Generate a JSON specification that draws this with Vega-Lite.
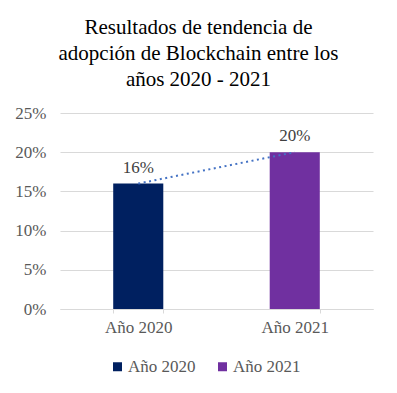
{
  "$schema": "https://vega.github.io/schema/vega-lite/v6.json",
  "width": 313,
  "height": 196,
  "autosize": {"type": "none"},
  "padding": {"left": 60, "top": 113, "right": 24, "bottom": 84},
  "background": "white",
  "config": {
    "font": "Liberation Serif",
    "view": {"stroke": null}
  },
  "title": {
    "text": ["Resultados de tendencia de", "adopción de Blockchain entre los", "años 2020 - 2021"],
    "font": "Liberation Serif",
    "fontSize": 21,
    "fontWeight": "normal",
    "color": "#000000",
    "lineHeight": 26,
    "anchor": "middle",
    "frame": "group",
    "dx": -18,
    "offset": 14
  },
  "data": {
    "values": [
      {"anio": "Año 2020", "valor": 0.16},
      {"anio": "Año 2021", "valor": 0.20}
    ]
  },
  "encoding": {
    "x": {
      "field": "anio",
      "type": "nominal",
      "title": null,
      "scale": {"paddingInner": 0.68, "paddingOuter": 0.34},
      "axis": {
        "labelAngle": 0,
        "labelFont": "Liberation Serif",
        "labelFontSize": 17,
        "labelColor": "#595959",
        "labelPadding": 6,
        "domainColor": "#D9D9D9",
        "tickColor": "#D9D9D9",
        "tickSize": 4,
        "tickBand": "extent",
        "grid": false
      }
    },
    "y": {
      "field": "valor",
      "type": "quantitative",
      "title": null,
      "scale": {"domain": [0, 0.25], "nice": false},
      "axis": {
        "values": [0, 0.05, 0.1, 0.15, 0.2, 0.25],
        "format": ".0%",
        "labelFont": "Liberation Serif",
        "labelFontSize": 17,
        "labelColor": "#595959",
        "labelPadding": 14,
        "domain": false,
        "ticks": false,
        "gridColor": "#D9D9D9",
        "gridWidth": 1
      }
    }
  },
  "layer": [
    {
      "mark": {"type": "bar"},
      "encoding": {
        "color": {
          "field": "anio",
          "type": "nominal",
          "scale": {"domain": ["Año 2020", "Año 2021"], "range": ["#002060", "#7030A0"]},
          "legend": {
            "title": null,
            "orient": "none",
            "direction": "horizontal",
            "legendX": 49,
            "legendY": 245,
            "padding": 0,
            "symbolType": "square",
            "symbolSize": 81,
            "symbolStrokeWidth": 0,
            "symbolOpacity": 1,
            "labelFont": "Liberation Serif",
            "labelFontSize": 17,
            "labelColor": "#595959",
            "labelOffset": 2,
            "columnPadding": 18
          }
        }
      }
    },
    {
      "mark": {"type": "line", "color": "#4472C4", "strokeWidth": 2, "strokeDash": [2, 3.5]}
    },
    {
      "mark": {
        "type": "text",
        "font": "Liberation Serif",
        "fontSize": 17,
        "color": "#404040",
        "baseline": "alphabetic",
        "dy": -11
      },
      "encoding": {"text": {"field": "valor", "type": "quantitative", "format": ".0%"}}
    }
  ]
}
